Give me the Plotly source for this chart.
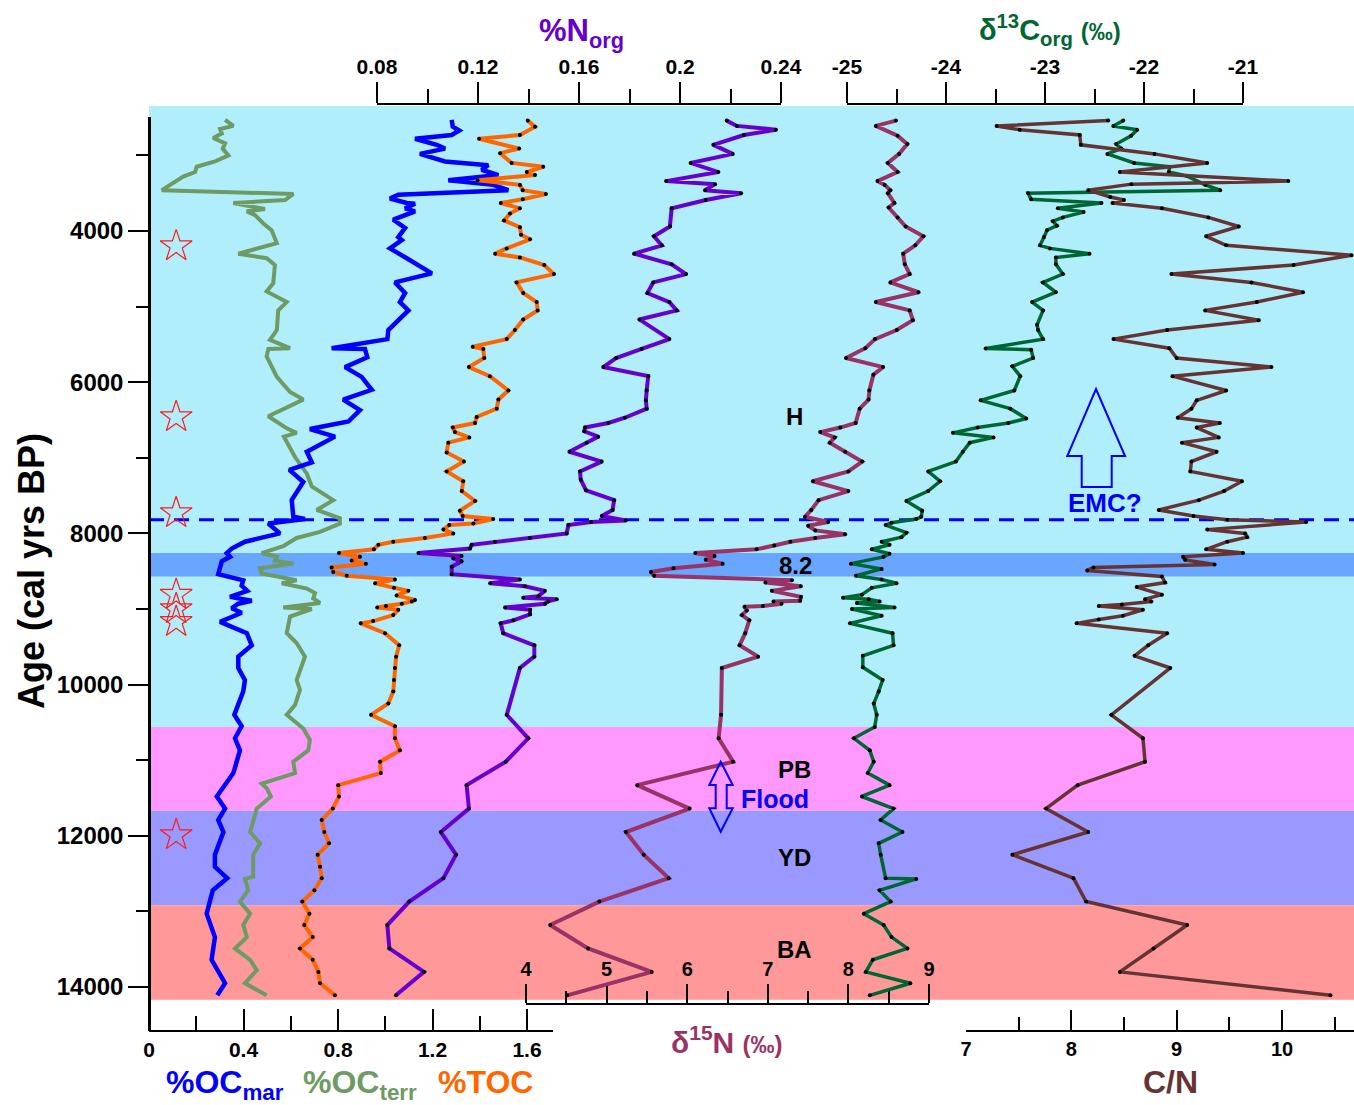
import plotly.graph_objects as go

# ---------------------------------------------------------------- data
# ages in cal yrs BP, one list of ages and one of values per record

toc_age = [2540, 2620, 2730, 2780, 2910, 2970, 3100, 3150, 3220, 3260,
           3330, 3390, 3460, 3510, 3580, 3630, 3700, 3770, 3860, 3950,
           4050, 4110, 4230, 4300, 4350, 4450, 4570, 4680, 4820, 4940,
           5050, 5170, 5310, 5430, 5530, 5560, 5680, 5800, 5920, 6110,
           6230, 6350, 6460, 6540, 6600, 6660, 6730, 6800, 6930, 7050,
           7180, 7310, 7440, 7570, 7700, 7770, 7810, 7870, 7890, 7950,
           8000, 8060, 8110, 8150, 8210, 8260, 8310, 8360, 8400, 8450,
           8510, 8560, 8610, 8660, 8720, 8760, 8820, 8880, 8900, 8930,
           8960, 8980, 9010, 9080, 9160, 9190, 9320, 9480, 9630, 9780,
           9940, 10090, 10250, 10400, 10550, 10710, 10870, 11020, 11170, 11330,
           11480, 11640, 11790, 11950, 12100, 12250, 12410, 12560, 12720, 12870,
           13030, 13180, 13340, 13490, 13640, 13800, 13950, 14110]
toc = [1.603, 1.634, 1.570, 1.397, 1.567, 1.486, 1.535, 1.669, 1.599, 1.634,
       1.391, 1.570, 1.582, 1.680, 1.582, 1.489, 1.570, 1.528, 1.503, 1.570,
       1.575, 1.613, 1.514, 1.465, 1.570, 1.673, 1.714, 1.556, 1.584, 1.641,
       1.645, 1.584, 1.549, 1.514, 1.370, 1.415, 1.419, 1.354, 1.443, 1.521,
       1.479, 1.472, 1.387, 1.380, 1.286, 1.295, 1.356, 1.267, 1.260, 1.333,
       1.260, 1.330, 1.324, 1.380, 1.316, 1.328, 1.457, 1.373, 1.271, 1.246,
       1.288, 1.168, 1.034, 0.971, 0.952, 0.804, 0.893, 0.858, 0.918, 0.773,
       0.780, 0.837, 1.041, 0.957, 1.037, 1.098, 1.048, 1.126, 1.112, 1.070,
       1.003, 0.966, 1.055, 1.034, 0.949, 0.896, 0.999, 1.059, 1.046, 1.041,
       1.037, 1.034, 1.013, 0.940, 1.041, 1.041, 1.062, 0.978, 0.981, 0.801,
       0.804, 0.778, 0.731, 0.742, 0.762, 0.714, 0.724, 0.731, 0.700, 0.649,
       0.679, 0.657, 0.693, 0.639, 0.693, 0.717, 0.724, 0.787]

octerr_age = [2530, 2610, 2650, 2710, 2770, 2840, 2910, 3000, 3080, 3150,
              3220, 3280, 3460, 3510, 3590, 3630, 3710, 3740, 3790, 3900,
              3990, 4080, 4160, 4300, 4360, 4450, 4690, 4800, 4940, 5050,
              5310, 5440, 5550, 5560, 5660, 5930, 6130, 6230, 6450, 6610,
              6670, 6720, 6990, 7210, 7380, 7490, 7560, 7690, 7800, 7870,
              7980, 8060, 8170, 8260, 8310, 8360, 8400, 8460, 8530, 8620,
              8660, 8730, 8790, 8860, 8920, 8980, 9000, 9100, 9320, 9450,
              9630, 9940, 10070, 10270, 10400, 10580, 10730, 10870, 11020, 11170,
              11310, 11370, 11480, 11640, 11950, 12100, 12250, 12540, 12570, 12720,
              12870, 13030, 13180, 13340, 13490, 13640, 13780, 13950, 14110]
octerr = [0.322, 0.357, 0.301, 0.308, 0.272, 0.322, 0.312, 0.336, 0.279, 0.202,
          0.195, 0.145, 0.054, 0.611, 0.576, 0.357, 0.491, 0.414, 0.449, 0.484,
          0.519, 0.533, 0.541, 0.378, 0.498, 0.533, 0.526, 0.498, 0.583, 0.547,
          0.541, 0.512, 0.597, 0.505, 0.498, 0.541, 0.597, 0.653, 0.505, 0.583,
          0.625, 0.571, 0.618, 0.668, 0.689, 0.745, 0.780, 0.710, 0.808, 0.808,
          0.724, 0.625, 0.568, 0.477, 0.541, 0.533, 0.611, 0.470, 0.477, 0.625,
          0.562, 0.668, 0.703, 0.695, 0.724, 0.568, 0.689, 0.597, 0.583, 0.625,
          0.660, 0.625, 0.639, 0.618, 0.583, 0.653, 0.681, 0.674, 0.611, 0.618,
          0.477, 0.498, 0.516, 0.456, 0.428, 0.470, 0.441, 0.441, 0.406, 0.420,
          0.385, 0.428, 0.399, 0.414, 0.364, 0.428, 0.456, 0.406, 0.498]

ocmar_age = [2530, 2620, 2670, 2730, 2780, 2860, 2910, 2980, 3080, 3130,
             3190, 3260, 3330, 3390, 3460, 3520, 3570, 3630, 3640, 3700,
             3740, 3850, 3960, 4080, 4120, 4230, 4360, 4560, 4680, 4820,
             4940, 5050, 5310, 5430, 5550, 5560, 5670, 5800, 5930, 6100,
             6230, 6370, 6520, 6620, 6720, 6920, 7060, 7160, 7320, 7560,
             7780, 7810, 7870, 8000, 8110, 8200, 8260, 8310, 8370, 8460,
             8540, 8620, 8690, 8760, 8840, 8890, 8930, 8990, 9050, 9170,
             9320, 9480, 9630, 9780, 9940, 10090, 10400, 10550, 10710, 10870,
             11170, 11480, 11640, 11790, 11950, 12250, 12410, 12560, 12720, 13030,
             13340, 13640, 13950, 14110]
ocmar = [1.281, 1.286, 1.313, 1.281, 1.126, 1.218, 1.253, 1.147, 1.253, 1.436,
         1.408, 1.479, 1.267, 1.457, 1.521, 1.055, 1.020, 1.091, 1.126, 1.084,
         1.126, 1.034, 1.084, 1.055, 1.070, 1.020, 1.091, 1.197, 1.041, 1.084,
         1.062, 1.098, 1.013, 1.009, 0.773, 0.914, 0.924, 0.830, 0.900, 0.943,
         0.822, 0.893, 0.844, 0.681, 0.787, 0.668, 0.689, 0.594, 0.653, 0.604,
         0.611, 0.660, 0.505, 0.554, 0.406, 0.350, 0.329, 0.343, 0.308, 0.301,
         0.293, 0.399, 0.392, 0.416, 0.343, 0.435, 0.378, 0.350, 0.392, 0.301,
         0.414, 0.435, 0.378, 0.378, 0.406, 0.399, 0.361, 0.392, 0.364, 0.385,
         0.357, 0.287, 0.322, 0.293, 0.315, 0.279, 0.279, 0.331, 0.270, 0.244,
         0.279, 0.265, 0.322, 0.289]

norg_age = [2540, 2610, 2660, 2730, 2860, 2980, 3100, 3220, 3340, 3380,
            3460, 3500, 3590, 3700, 3940, 4070, 4190, 4300, 4440, 4570,
            4680, 4820, 4940, 5050, 5170, 5430, 5560, 5680, 5800, 5920,
            6110, 6240, 6350, 6470, 6540, 6600, 6650, 6720, 6800, 6920,
            7050, 7180, 7290, 7430, 7560, 7690, 7770, 7830, 7850, 7890,
            8000, 8060, 8110, 8150, 8200, 8260, 8300, 8330, 8370, 8440,
            8540, 8610, 8660, 8700, 8760, 8830, 8850, 8870, 8900, 8930,
            8980, 9010, 9070, 9150, 9190, 9320, 9480, 9630, 9780, 10400,
            10710, 11020, 11330, 11640, 11950, 12250, 12560, 12870, 13180, 13490,
            13800, 14110]
norg = [0.2185, 0.2225, 0.2380, 0.2253, 0.2132, 0.2209, 0.2042, 0.2152, 0.1945, 0.2139,
        0.2099, 0.2242, 0.2102, 0.1967, 0.1960, 0.1897, 0.1928, 0.1818, 0.1967, 0.2024,
        0.1894, 0.1871, 0.1958, 0.1987, 0.1839, 0.1958, 0.1848, 0.1747, 0.1696, 0.1874,
        0.1868, 0.1865, 0.1868, 0.1782, 0.1716, 0.1624, 0.1621, 0.1676, 0.1630, 0.1562,
        0.1690, 0.1604, 0.1607, 0.1628, 0.1739, 0.1733, 0.1690, 0.1785, 0.1648, 0.1558,
        0.1551, 0.1406, 0.1267, 0.1175, 0.1168, 0.0964, 0.1135, 0.1102, 0.1135, 0.1096,
        0.1096, 0.1366, 0.1248, 0.1386, 0.1465, 0.1439, 0.1379, 0.1512, 0.1478, 0.1465,
        0.1307, 0.1406, 0.1406, 0.1340, 0.1290, 0.1300, 0.1423, 0.1423, 0.1366, 0.1314,
        0.1399, 0.1310, 0.1155, 0.1164, 0.1053, 0.1113, 0.1063, 0.0928, 0.0841, 0.0849,
        0.0986, 0.0875]

d15n_age = [2540, 2610, 2740, 2850, 2980, 3100, 3220, 3340, 3390, 3460,
            3500, 3630, 3690, 3820, 3940, 4070, 4190, 4300, 4440, 4570,
            4680, 4810, 4940, 5050, 5180, 5310, 5430, 5550, 5680, 5800,
            5900, 6110, 6230, 6350, 6540, 6600, 6660, 6730, 6800, 6920,
            7050, 7180, 7310, 7440, 7560, 7690, 7780, 7850, 7900, 7960,
            8010, 8060, 8110, 8160, 8210, 8260, 8300, 8350, 8400, 8460,
            8510, 8560, 8620, 8650, 8700, 8760, 8840, 8890, 8900, 8930,
            8960, 8970, 9020, 9080, 9150, 9320, 9480, 9630, 9780, 10400,
            10710, 11020, 11330, 11640, 11950, 12250, 12560, 12870, 13180, 13490,
            13800, 14110]
d15n = [8.59, 8.34, 8.61, 8.73, 8.63, 8.49, 8.61, 8.36, 8.45, 8.52,
        8.49, 8.57, 8.50, 8.61, 8.71, 8.93, 8.83, 8.68, 8.70, 8.76,
        8.52, 8.87, 8.34, 8.76, 8.80, 8.60, 8.33, 8.21, 7.97, 8.43,
        8.31, 8.26, 8.25, 8.14, 8.09, 7.90, 7.65, 7.83, 7.77, 7.96,
        8.17, 8.00, 7.56, 8.00, 7.63, 7.54, 7.46, 7.75, 7.50, 7.59,
        7.96, 7.59, 7.28, 7.08, 6.86, 6.10, 6.34, 6.23, 6.44, 5.83,
        5.55, 5.59, 7.30, 6.97, 7.41, 7.05, 7.41, 7.40, 7.07, 7.17,
        6.94, 6.71, 6.74, 6.68, 6.77, 6.72, 6.65, 6.88, 6.43, 6.42,
        6.39, 6.57, 5.38, 6.03, 5.24, 5.46, 5.77, 4.91, 4.30, 4.77,
        5.56, 4.51]

d13c_age = [2540, 2610, 2660, 2740, 2850, 2910, 2980, 3100, 3150, 3220,
            3270, 3390, 3460, 3500, 3580, 3630, 3700, 3750, 3820, 3870,
            3930, 3990, 4080, 4190, 4230, 4300, 4350, 4440, 4570, 4680,
            4810, 4940, 5050, 5240, 5310, 5430, 5555, 5570, 5680, 5790,
            5920, 6110, 6240, 6350, 6480, 6540, 6600, 6670, 6730, 6800,
            6920, 7050, 7180, 7310, 7440, 7570, 7700, 7780, 7810, 7860,
            7890, 7990, 8050, 8110, 8150, 8210, 8270, 8310, 8400, 8470,
            8560, 8610, 8660, 8720, 8810, 8850, 8870, 8900, 8920, 8980,
            9000, 9090, 9190, 9320, 9480, 9620, 9770, 9940, 10090, 10250,
            10400, 10560, 10710, 10870, 11020, 11170, 11330, 11480, 11640, 11790,
            11950, 12100, 12250, 12560, 12570, 12720, 12870, 13030, 13180, 13340,
            13490, 13640, 13800, 13950, 14110]
d13c = [-22.21, -22.31, -22.07, -22.13, -22.28, -22.23, -22.37, -22.10, -21.74, -21.75,
        -21.57, -21.38, -21.23, -23.17, -23.14, -22.43, -22.87, -22.61, -22.82, -22.92,
        -22.88, -22.98, -23.01, -23.05, -22.95, -22.55, -22.89, -22.89, -22.82, -23.02,
        -22.89, -23.13, -23.02, -23.08, -23.07, -23.02, -23.60, -23.14, -23.12, -23.33,
        -23.25, -23.31, -23.65, -23.35, -23.19, -23.37, -23.68, -23.93, -23.52, -23.76,
        -23.83, -23.90, -24.18, -24.06, -24.18, -24.40, -24.24, -24.25, -24.30, -24.55,
        -24.61, -24.40, -24.45, -24.65, -24.57, -24.75, -24.57, -24.63, -24.96, -24.65,
        -24.91, -24.65, -24.50, -24.75, -24.85, -25.04, -24.78, -24.67, -24.90, -24.52,
        -24.95, -24.65, -24.97, -24.54, -24.53, -24.84, -24.84, -24.64, -24.68, -24.73,
        -24.70, -24.72, -24.93, -24.77, -24.73, -24.79, -24.57, -24.85, -24.53, -24.66,
        -24.44, -24.68, -24.66, -24.61, -24.30, -24.67, -24.56, -24.83, -24.63, -24.55,
        -24.39, -24.74, -24.81, -24.36, -24.77]

cn_age = [2540, 2610, 2660, 2730, 2860, 2980, 3100, 3220, 3340, 3380,
          3460, 3550, 3590, 3630, 3700, 3820, 3940, 4070, 4190, 4320,
          4450, 4570, 4680, 4810, 4940, 5050, 5180, 5310, 5430, 5550,
          5680, 5800, 5920, 6110, 6240, 6350, 6470, 6540, 6600, 6730,
          6800, 6920, 7050, 7180, 7310, 7440, 7560, 7690, 7770, 7820,
          7850, 7950, 8000, 8050, 8110, 8210, 8260, 8310, 8350, 8410,
          8450, 8490, 8570, 8650, 8710, 8810, 8870, 8900, 8940, 8960,
          9010, 9090, 9140, 9190, 9320, 9480, 9620, 9780, 10400, 10710,
          11020, 11330, 11640, 11950, 12250, 12560, 12870, 13180, 13490, 13800,
          14110]
cn = [8.35, 7.29, 7.51, 8.08, 8.09, 8.79, 9.29, 8.46, 10.06, 8.57,
      8.16, 8.37, 8.50, 8.39, 8.86, 9.30, 9.59, 9.28, 9.47, 10.66,
      10.11, 8.95, 9.71, 10.20, 9.76, 9.27, 9.78, 8.91, 8.40, 8.93,
      9.00, 9.90, 8.96, 9.47, 9.19, 9.14, 9.01, 9.41, 9.19, 9.40,
      9.05, 9.38, 9.14, 9.13, 9.62, 9.45, 9.21, 8.83, 9.16, 9.48,
      10.23, 9.29, 9.65, 9.67, 9.48, 9.28, 9.63, 9.06, 9.08, 9.36,
      8.21, 8.15, 8.86, 8.89, 8.62, 8.86, 8.70, 8.76, 8.48, 8.26,
      8.68, 8.49, 8.26, 8.05, 8.91, 8.73, 8.60, 8.94, 8.38, 8.68,
      8.70, 8.06, 7.76, 8.16, 7.44, 8.02, 8.14, 9.10, 8.78, 8.46,
      10.46]

# dated levels (plotted as stars near the age axis)
star_age = [4200, 6460, 7730, 8810, 9000, 9170, 11990]
star_pct = 0.115

# climate periods: name and older boundary (cal yrs BP)
period_names = ["H", "PB", "YD", "BA"]
period_base = [10560, 11670, 12920, 14170]
period_label_age = [6460, 11120, 12290, 13510]
event_82 = [8260, 8570]
event_82_label_age = 8420
emc_age = 7820

age_ticks = [4000, 6000, 8000, 10000, 12000, 14000]
pct_ticks = [0, 0.4, 0.8, 1.2, 1.6]
pct_labels = ["0", "0.4", "0.8", "1.2", "1.6"]
norg_ticks = [0.08, 0.12, 0.16, 0.2, 0.24]
norg_labels = ["0.08", "0.12", "0.16", "0.2", "0.24"]
d13c_ticks = [-25, -24, -23, -22, -21]
d13c_labels = ["-25", "-24", "-23", "-22", "-21"]
d15n_ticks = [4, 5, 6, 7, 8, 9]
d15n_labels = ["4", "5", "6", "7", "8", "9"]
cn_ticks = [7, 8, 9, 10]
cn_labels = ["7", "8", "9", "10"]

for a, b in [(toc_age, toc), (octerr_age, octerr), (ocmar_age, ocmar), (norg_age, norg),
             (d15n_age, d15n), (d13c_age, d13c), (cn_age, cn)]:
    assert len(a) == len(b)

# ---------------------------------------------------------------- geometry
W, H = 1354, 1105
L, R, T, B = 149, 1354, 104, 1031       # plotting frame in page pixels
Y_TOP = 117                              # top end of the age axis line
BG_TOP = 106                             # top of the shaded background


def fx(px):
    return (px - L) / (R - L)


def fy(py):
    return (B - py) / (B - T)


# each scale: (value, pixel, value, pixel)
AGE_CAL = (4000, 231, 14000, 987)
PCT_CAL = (0, 149, 1.6, 527)
NORG_CAL = (0.08, 377, 0.24, 781)
D13C_CAL = (-25, 847, -21, 1243)
D15N_CAL = (4, 526, 9, 929)
CN_CAL = (7, 966, 10, 1282)


def at(cal, px):
    v0, p0, v1, p1 = cal
    return v0 + (px - p0) * (v1 - v0) / (p1 - p0)


def age_paper(age):
    v0, p0, v1, p1 = AGE_CAL
    return fy(p0 + (age - v0) * (p1 - p0) / (v1 - v0))


FONT = "Liberation Sans"
C_MAR, C_TERR, C_TOC = "#0000ff", "#6e9a64", "#ff6600"
C_NORG, C_D15N, C_D13C, C_CN = "#6600cc", "#993366", "#006633", "#663333"


def shown_axis(cal, p0, p1, side, pos, ticks, vals, labels, tl, mdt, mtl, size=21):
    return dict(
        domain=[fx(p0), fx(p1)], range=[at(cal, p0), at(cal, p1)],
        anchor="free", position=pos, side=side, automargin=False,
        showline=True, linecolor="black", linewidth=2,
        ticks=ticks, ticklen=tl, tickwidth=2, tickcolor="black",
        tickmode="array", tickvals=vals, ticktext=labels,
        tickfont=dict(family=FONT, size=size, color="black", weight="bold"),
        minor=dict(ticks=ticks, dtick=mdt, tick0=vals[0], ticklen=mtl,
                   tickwidth=2, tickcolor="black", showgrid=False),
        showgrid=False, zeroline=False, fixedrange=True)


def data_axis(cal):
    return dict(domain=[0, 1], range=[at(cal, L), at(cal, R)], visible=False,
                anchor="y", automargin=False, showgrid=False, zeroline=False,
                fixedrange=True)


fig = go.Figure()

# empty traces so every labelled axis is rendered
for ax in ["x", "x2", "x3", "x4", "x5"]:
    fig.add_trace(go.Scatter(x=[None], y=[None], xaxis=ax, yaxis="y",
                             mode="lines", hoverinfo="skip", showlegend=False))


def record(x, age, axis, color, width, dots):
    fig.add_trace(go.Scatter(
        x=x, y=age, xaxis=axis, yaxis="y",
        mode="lines+markers" if dots else "lines",
        line=dict(color=color, width=width),
        marker=dict(color="black", size=4),
        hoverinfo="skip", showlegend=False))


record(octerr, octerr_age, "x6", C_TERR, 4, False)
record(ocmar, ocmar_age, "x6", C_MAR, 4.5, False)
record(toc, toc_age, "x6", C_TOC, 4, True)
record(norg, norg_age, "x7", C_NORG, 4, True)
record(d15n, d15n_age, "x8", C_D15N, 4, True)
record(d13c, d13c_age, "x9", C_D13C, 3.5, True)
record(cn, cn_age, "x10", C_CN, 3.5, True)

fig.add_trace(go.Scatter(
    x=[star_pct] * len(star_age), y=star_age, xaxis="x6", yaxis="y",
    mode="markers", hoverinfo="skip", showlegend=False,
    marker=dict(symbol="star-open", size=24, color="#ff1a1a", line=dict(width=1.2))))

# ---------------------------------------------------------------- background
band_colors = ["#b1eefc", "#ff99ff", "#9999ff", "#ff9999"]
shapes = []
prev = None
for name, base, col in zip(period_names, period_base, band_colors):
    top = fy(BG_TOP) if prev is None else age_paper(prev)
    shapes.append(dict(type="rect", xref="paper", yref="paper", x0=0, x1=1,
                       y0=age_paper(base), y1=top, fillcolor=col,
                       line=dict(width=0), layer="below"))
    prev = base
shapes.append(dict(type="rect", xref="paper", yref="y", x0=0, x1=1,
                   y0=event_82[0], y1=event_82[1], fillcolor="#68a6ff",
                   line=dict(width=0), layer="below"))
shapes.append(dict(type="line", xref="paper", yref="y", x0=0, x1=1,
                   y0=emc_age, y1=emc_age, layer="below",
                   line=dict(color="#0000ff", width=3, dash="15px,10px")))


def outline(points):
    d = "M " + " L ".join(f"{fx(px):.5f},{fy(py):.5f}" for px, py in points) + " Z"
    return dict(type="path", xref="paper", yref="paper", path=d, layer="above",
                line=dict(color="#0000ff", width=2), fillcolor="rgba(0,0,0,0)")


# hollow up-arrow beside "EMC?"
shapes.append(outline([(1096, 389), (1125, 456), (1111.7, 456), (1111.7, 487),
                       (1081.7, 487), (1081.7, 456), (1067.3, 456)]))
# hollow double arrow beside "Flood"
shapes.append(outline([(720.7, 761.7), (732.7, 785), (726.7, 785), (726.7, 808.3),
                       (732.7, 808.3), (720.7, 831.7), (709.3, 808.3), (715.7, 808.3),
                       (715.7, 785), (709.3, 785)]))

# ---------------------------------------------------------------- text
ann = []


def label(text, px, py, size, color="black", angle=0):
    ann.append(dict(text=text, x=fx(px), y=fy(py), xref="paper", yref="paper",
                    showarrow=False, xanchor="center", yanchor="middle",
                    textangle=angle,
                    font=dict(family=FONT, size=size, color=color, weight="bold")))


def age_label(text, px, age, size, color="black"):
    ann.append(dict(text=text, x=fx(px), y=age, xref="paper", yref="y",
                    showarrow=False, xanchor="center", yanchor="middle",
                    font=dict(family=FONT, size=size, color=color, weight="bold")))


for name, a in zip(period_names, period_label_age):
    age_label(name, 794, a, 24)
age_label("8.2", 795, event_82_label_age, 24)
age_label("EMC?", 1105, 7600, 26, "#0000ff")
age_label("Flood", 775, 11510, 25, "#0000ff")

label("Age (cal yrs BP)", 31, 571, 36, angle=-90)
label("%OC<sub>mar</sub>", 225, 1084, 32, C_MAR)
label("%OC<sub>terr</sub>", 360, 1084, 32, C_TERR)
label("%TOC", 485, 1082, 32, C_TOC)
label("C/N", 1170, 1082, 32, C_CN)
label("%N<sub>org</sub>", 581, 33, 31, C_NORG)
label("δ<sup>13</sup>C<sub>org</sub> <span style='font-size:24px'>(‰)</span>",
      1050, 30, 29, C_D13C)
label("δ<sup>15</sup>N <span style='font-size:24px'>(‰)</span>", 727, 1040, 30, C_D15N)

# ---------------------------------------------------------------- layout
fig.update_layout(
    width=W, height=H, autosize=False,
    margin=dict(l=L, r=W - R, t=T, b=H - B, pad=0, autoexpand=False),
    paper_bgcolor="white", plot_bgcolor="rgba(0,0,0,0)",
    showlegend=False, shapes=shapes, annotations=ann,
    yaxis=dict(
        domain=[0, fy(Y_TOP)], range=[at(AGE_CAL, B), at(AGE_CAL, Y_TOP)],
        anchor="free", position=0, automargin=False,
        showline=True, linecolor="black", linewidth=2.5,
        ticks="outside", ticklen=20, tickwidth=2, tickcolor="black",
        tickmode="array", tickvals=age_ticks, ticktext=[str(a) for a in age_ticks],
        tickfont=dict(family=FONT, size=24, color="black", weight="bold"),
        minor=dict(ticks="outside", dtick=1000, tick0=0, ticklen=12,
                   tickwidth=2, tickcolor="black", showgrid=False),
        showgrid=False, zeroline=False, fixedrange=True),
    xaxis=shown_axis(PCT_CAL, 149, 553, "bottom", 0, "inside",
                     pct_ticks, pct_labels, 21, 0.2, 14),
    xaxis2=shown_axis(NORG_CAL, 377, 781, "top", 1, "outside",
                      norg_ticks, norg_labels, 21, 0.02, 14),
    xaxis3=shown_axis(D13C_CAL, 847, 1243, "top", 1, "outside",
                      d13c_ticks, d13c_labels, 21, 0.5, 14),
    xaxis4=shown_axis(D15N_CAL, 526, 929, "top", fy(1004), "outside",
                      d15n_ticks, d15n_labels, 19, 0.5, 12, size=20),
    xaxis5=shown_axis(CN_CAL, 966, R, "bottom", 0, "inside",
                      cn_ticks, cn_labels, 20, 0.5, 13, size=20),
    xaxis6=data_axis(PCT_CAL),
    xaxis7=data_axis(NORG_CAL),
    xaxis8=data_axis(D15N_CAL),
    xaxis9=data_axis(D13C_CAL),
    xaxis10=data_axis(CN_CAL),
)

fig.write_html("out.html", config={"displayModeBar": False, "responsive": False})
